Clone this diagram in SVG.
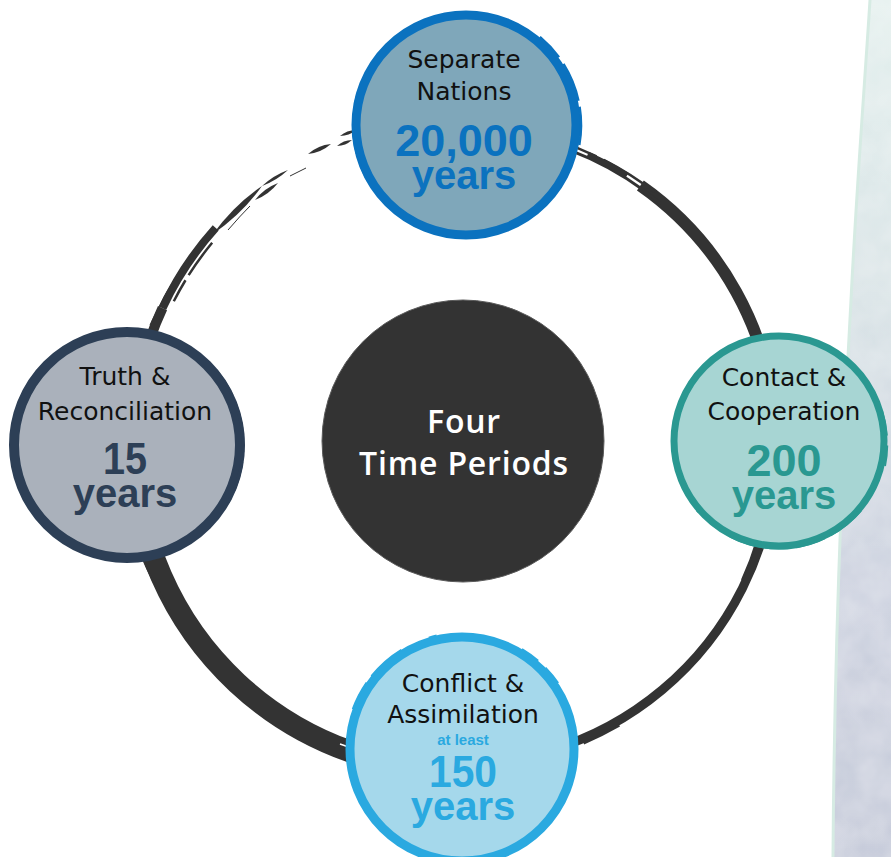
<svg xmlns="http://www.w3.org/2000/svg" width="891" height="857" viewBox="0 0 891 857">
  <defs>
    <linearGradient id="bandGrad" x1="0" y1="0" x2="0" y2="1">
      <stop offset="0" stop-color="#e4f0ee"/>
      <stop offset="0.35" stop-color="#d9e3e6"/>
      <stop offset="0.7" stop-color="#ccd1df"/>
      <stop offset="1" stop-color="#c6cbda"/>
    </linearGradient>
    <filter id="tex" x="0" y="0" width="1" height="1">
      <feTurbulence type="fractalNoise" baseFrequency="0.035" numOctaves="3" seed="4" result="n"/>
      <feColorMatrix in="n" type="matrix" values="0 0 0 0 1  0 0 0 0 1  0 0 0 0 1  0 0 0 0.35 -0.05" result="w"/>
      <feComposite in="w" in2="SourceGraphic" operator="in" result="wc"/>
      <feMerge><feMergeNode in="SourceGraphic"/><feMergeNode in="wc"/></feMerge>
    </filter>
    <style>
      .ring { fill: none; stroke: #333333; stroke-linecap: butt; }
      .brush { fill: #333333; stroke: none; }
      .lbl { font-family: "DejaVu Sans", "Liberation Sans", sans-serif; font-size: 25px; fill: #111111; text-anchor: middle; }
      .num { font-family: "Liberation Sans", Arial, sans-serif; font-weight: bold; font-size: 45px; text-anchor: middle; }
      .yrs { font-family: "Liberation Sans", Arial, sans-serif; font-weight: bold; font-size: 40px; text-anchor: middle; }
      .ctr { font-family: "Open Sans", "DejaVu Sans", sans-serif; font-weight: 600; font-size: 32px; fill: #ffffff; text-anchor: middle; letter-spacing: 0.8px; }
    </style>
  </defs>

  <rect x="0" y="0" width="891" height="857" fill="#ffffff"/>

  <!-- background band on right -->
  <g id="background-band">
    <path d="M870,0 L891,0 L891,857 L833,857 C834,700 840,500 851,300 C857,180 865,80 870,0 Z" fill="url(#bandGrad)" filter="url(#tex)"/>
    <path d="M870,0 C865,80 857,180 851,300 C840,500 834,700 833,857" fill="none" stroke="#d6ebe3" stroke-width="3"/>
  </g>

  <!-- connectors: the brush ring -->
  <g id="connectors">
    <!-- upper right -->
    <path class="ring" stroke-width="12" d="M640.4,185.5 A318,318 0 0,1 775.6,429.4"/>
    <path class="ring" stroke-width="3" d="M502,133.1 A316,316 0 0,1 661.1,203.9"/>
    <path class="ring" stroke-width="2.5" stroke-dasharray="30 6 40 8 60" d="M524.7,132 A321,321 0 0,1 655.6,193"/>
    <path class="ring" stroke-width="6" d="M587.7,154.6 A319,319 0 0,1 627,175.5"/>
    <!-- lower right -->
    <path class="ring" stroke-width="9" d="M774.8,473.7 A318,318 0 0,1 430,762.8"/>
    <path class="ring" stroke-width="2" stroke-dasharray="40 10 25 12" d="M619.5,725.7 A323,323 0 0,1 469.3,768.8"/>
    <path class="ring" stroke-width="2" d="M757,540 A314,314 0 0,1 742,580"/>
    <!-- lower left -->
    <path class="ring" stroke-width="22" d="M469.3,769.8 A324,324 0 0,1 134.2,457.3"/>
    <path class="ring" stroke-width="2" stroke-dasharray="22 9 30 12" d="M170,610 A337,337 0 0,1 124,500"/>
    <path fill="none" stroke="#ffffff" stroke-width="1.5" d="M385,758 A329,329 0 0,1 340,744"/>
    <!-- upper left -->
    <path class="ring" stroke-width="10" d="M132.2,434.6 A326,326 0 0,1 162.5,308.2"/>
    <path class="ring" stroke-width="8" d="M162.5,308.2 A326,326 0 0,1 215.7,227.9"/>
    <path class="ring" stroke-width="2.5" stroke-dasharray="24 6 40" d="M173.8,301.2 A319,319 0 0,1 217.3,236.7"/>
    <path class="brush" d="M213,234 Q242.7,213.3 262,186 Q234.3,204.7 213,234Z"/>
    <path class="brush" d="M255,200 Q268.9,194.7 278,183 Q264.1,188.3 255,200Z"/>
    <path class="brush" d="M262,186 Q276.6,180.6 288,170 Q273.4,175.4 262,186Z"/>
    <path class="brush" d="M308,154 Q321.1,152.7 331,144 Q317.9,145.3 308,154Z"/>
    <path class="brush" d="M337,146 Q345.6,145.8 352,140 Q343.4,140.2 337,146Z"/>
    <path class="brush" d="M340,136 Q349.1,135.8 356,130 Q346.9,130.2 340,136Z"/>
    <path class="ring" stroke-width="1" d="M290,176 L306,168"/>
    <path class="ring" stroke-width="1" d="M150,325 Q163,296 180,270"/>
    <path class="ring" stroke-width="1" d="M228,230 Q240,216 250,206"/>
  </g>

  <!-- center node -->
  <g id="node-center">
    <circle cx="463" cy="441" r="141" fill="#333333" stroke="#5a5a5a" stroke-width="1"/>
    <text class="ctr" x="464" y="433">Four</text>
    <text class="ctr" x="464" y="475">Time Periods</text>
  </g>

  <!-- top node: Separate Nations -->
  <g id="node-separate-nations">
    <circle cx="466" cy="125" r="110" fill="#7fa7ba" stroke="#0b72bf" stroke-width="9"/>
    <g transform="translate(466,125)" fill="none" stroke="#0b72bf">
      <path stroke-width="2.5" stroke-dasharray="28 8 40 6 50" d="M73.9,-88.1 A115,115 0 0,1 113.3,20"/>
      <path stroke-width="2" stroke-dasharray="20 10 30" d="M-97.9,56.5 A113,113 0 0,1 -106.2,-38.6"/>
    </g>
    <text class="lbl" x="464" y="68">Separate</text>
    <text class="lbl" x="464" y="100">Nations</text>
    <text class="num" x="464" y="156" fill="#0b72bf">20,000</text>
    <text class="yrs" x="464" y="189" fill="#0b72bf">years</text>
  </g>

  <!-- right node: Contact & Cooperation -->
  <g id="node-contact-cooperation">
    <circle cx="779" cy="441" r="105" fill="#a7d5d3" stroke="#2a9891" stroke-width="7"/>
    <g transform="translate(779,441)" fill="none" stroke="#2a9891">
      <path stroke-width="3" stroke-dasharray="40 6 30 8 60" d="M82,68.8 A107,107 0 0,1 -82,68.8"/>
      <path stroke-width="2" stroke-dasharray="25 10" d="M103,-30 A108,108 0 0,1 106,25"/>
    </g>
    <text class="lbl" x="784" y="386">Contact &amp;</text>
    <text class="lbl" x="784" y="420">Cooperation</text>
    <text class="num" x="784" y="476" fill="#2a9891">200</text>
    <text class="yrs" x="784" y="509" fill="#2a9891">years</text>
  </g>

  <!-- bottom node: Conflict & Assimilation -->
  <g id="node-conflict-assimilation">
    <circle cx="462" cy="749" r="112" fill="#a5d8eb" stroke="#2aa9e0" stroke-width="9"/>
    <g transform="translate(462,749)" fill="none" stroke="#2aa9e0">
      <path stroke-width="2.5" stroke-dasharray="30 8 40" d="M-109,-39.7 A116,116 0 0,1 -20.1,-114.2"/>
      <path stroke-width="2" stroke-dasharray="20 10" d="M60,-100 A117,117 0 0,1 100,-60"/>
    </g>
    <text class="lbl" x="463" y="692">Conflict &amp;</text>
    <text class="lbl" x="463" y="723">Assimilation</text>
    <text x="463" y="745" font-family="Liberation Sans, Arial, sans-serif" font-weight="bold" font-size="15" fill="#2aa9e0" text-anchor="middle">at least</text>
    <text class="num" x="463" y="787" fill="#2aa9e0" textLength="68" lengthAdjust="spacingAndGlyphs">150</text>
    <text class="yrs" x="463" y="820" fill="#2aa9e0">years</text>
  </g>

  <!-- left node: Truth & Reconciliation -->
  <g id="node-truth-reconciliation">
    <circle cx="127" cy="445" r="113" fill="#aab1bb" stroke="#2d3f56" stroke-width="10"/>
    <g transform="translate(127,445)" fill="none" stroke="#2d3f56">
      <path stroke-width="3" stroke-dasharray="30 8 50 10" d="M88.9,-74.6 A116,116 0 0,1 100.5,58"/>
    </g>
    <text class="lbl" x="125" y="385">Truth &amp;</text>
    <text class="lbl" x="125" y="420">Reconciliation</text>
    <text class="num" x="125" y="474" fill="#2d3f56" textLength="44" lengthAdjust="spacingAndGlyphs">15</text>
    <text class="yrs" x="125" y="507" fill="#2d3f56">years</text>
  </g>
</svg>
